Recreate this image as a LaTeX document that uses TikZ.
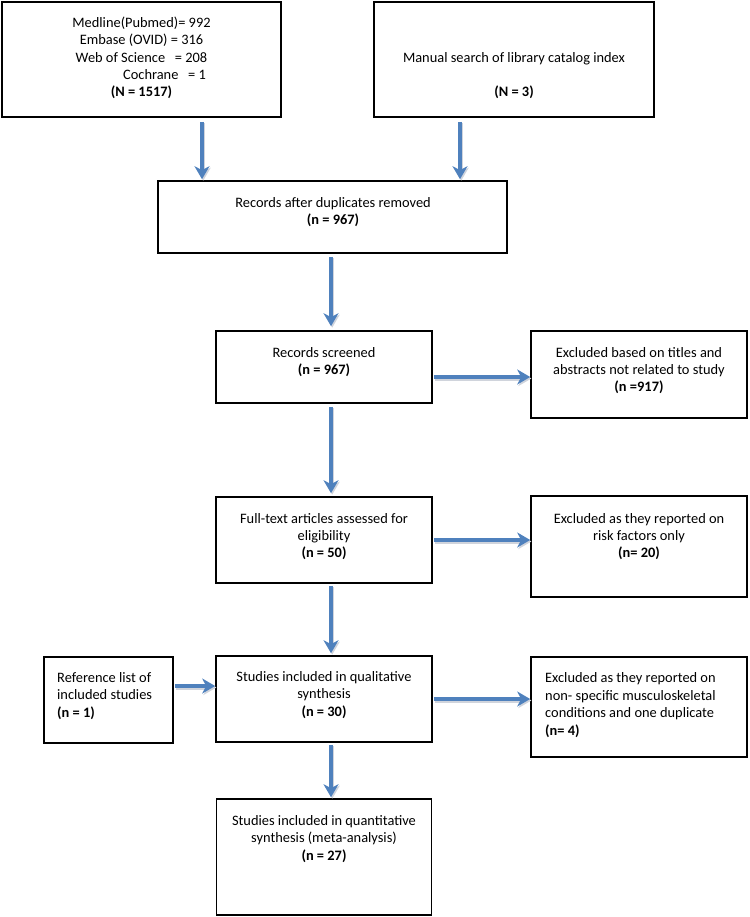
\documentclass[tikz,border=0pt]{standalone}
\usepackage{fontspec}
\setmainfont{Carlito}
\usetikzlibrary{arrows.meta}
\definecolor{arrblue}{HTML}{4F81BD}
\definecolor{shadowgray}{HTML}{D0D4DC}
\tikzset{
  box/.style={draw=black, line width=1.6pt, rectangle, inner sep=0pt, fill=white},
  txt/.style={inner sep=0pt, align=center, font=\fontsize{14.4}{17.4}\selectfont},
  txtl/.style={inner sep=0pt, align=left, font=\fontsize{14.4}{17.4}\selectfont, anchor=west},
  arr/.style={draw=arrblue, line width=4pt, -{Stealth[length=13pt,width=15pt,inset=4pt]}},
  arrsh/.style={draw=shadowgray, line width=4pt, -{Stealth[length=13pt,width=15pt,inset=4pt]}, transform canvas={shift={(1.2pt,-1.5pt)}}},
}
\begin{document}
\begin{tikzpicture}[x=1pt,y=-1pt]
\useasboundingbox (0,0) rectangle (749,917);

% boxes
\node[box, minimum width=279pt, minimum height=115pt] (b1) at (141.5,59.5) {};
\node[box, minimum width=280pt, minimum height=115pt] (b2) at (514,59.5) {};
\node[box, minimum width=349pt, minimum height=72pt] (b3) at (332.5,217) {};
\node[box, minimum width=216pt, minimum height=72pt] (b4) at (324,367) {};
\node[box, minimum width=216pt, minimum height=87pt] (e1) at (639,374.5) {};
\node[box, minimum width=216pt, minimum height=86pt] (b5) at (324,540) {};
\node[box, minimum width=216pt, minimum height=101pt] (e2) at (639,546.5) {};
\node[box, minimum width=129pt, minimum height=86pt] (r1) at (108.5,700) {};
\node[box, minimum width=216pt, minimum height=86pt] (b6) at (324,699) {};
\node[box, minimum width=216pt, minimum height=100pt] (e3) at (639,707) {};
\node[box, minimum width=215pt, minimum height=116pt] (b7) at (324,857) {};

% texts
\node[txt] (t1) at (141.5,58) {Medline(Pubmed)= 992\\Embase (OVID) = 316\\Web of Science\ \ \ = 208\\\hspace*{3.2em}Cochrane\ \ \ = 1\\\textbf{(N = 1517)}};
\node[txt] (t2) at (514,75.5) {Manual search of library catalog index\\[17.4pt]\textbf{(N = 3)}};
\node[txt] (t3) at (333,212) {Records after duplicates removed\\\textbf{(n = 967)}};
\node[txt] (t4) at (324,362) {Records screened\\\textbf{(n = 967)}};
\node[txt] (te1) at (639,370.5) {Excluded based on titles and\\abstracts not related to study\\\textbf{(n =917)}};
\node[txt] (t5) at (324,536.5) {Full-text articles assessed for\\eligibility\\\textbf{(n = 50)}};
\node[txt] (te2) at (639,536.5) {Excluded as they reported on\\risk factors only\\\textbf{(n= 20)}};
\node[txtl] (tr1) at (57,696) {Reference list of\\included studies\\\textbf{(n = 1)}};
\node[txt] (t6) at (324,695) {Studies included in qualitative\\synthesis\\\textbf{(n = 30)}};
\node[txtl] (te3) at (545,705) {Excluded as they reported on\\non- specific musculoskeletal\\conditions and one duplicate\\\textbf{(n= 4)}};
\node[txt] (t7) at (324,839) {Studies included in quantitative\\synthesis (meta-analysis)\\\textbf{(n = 27)}};

% arrow anchor columns / rows
\coordinate (xa) at (202,0);
\coordinate (xb) at (460,0);
\coordinate (xc) at (331,0);
\coordinate (ya) at (0,377);
\coordinate (yb) at (0,540);
\coordinate (yc) at (0,686);
\coordinate (yd) at (0,699);

% arrows (shadow then blue)
\foreach \s in {arrsh,arr}{
  \draw[\s, shorten <=4pt, shorten >=1pt] (b1.south -| xa) -- (b3.north -| xa);
  \draw[\s, shorten <=4pt, shorten >=1pt] (b2.south -| xb) -- (b3.north -| xb);
  \draw[\s, shorten <=3pt, shorten >=4pt] (b3.south -| xc) -- (b4.north -| xc);
  \draw[\s, shorten <=3pt, shorten >=3pt] (b4.south -| xc) -- (b5.north -| xc);
  \draw[\s, shorten <=2pt, shorten >=2pt] (b5.south -| xc) -- (b6.north -| xc);
  \draw[\s, shorten <=2pt, shorten >=1pt] (b6.south -| xc) -- (b7.north -| xc);
  \draw[\s, shorten <=1pt, shorten >=0pt] (b4.east |- ya) -- (e1.west |- ya);
  \draw[\s, shorten <=1pt, shorten >=0pt] (b5.east |- yb) -- (e2.west |- yb);
  \draw[\s, shorten <=1pt, shorten >=0pt] (r1.east |- yc) -- (b6.west |- yc);
  \draw[\s, shorten <=1pt, shorten >=0pt] (b6.east |- yd) -- (e3.west |- yd);
}
\end{tikzpicture}
\end{document}
